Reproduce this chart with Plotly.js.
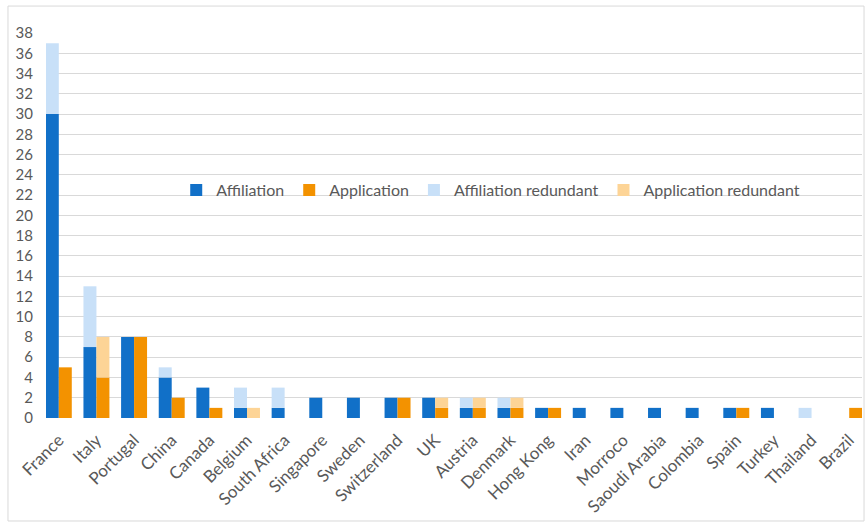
<!DOCTYPE html>
<html>
<head>
<meta charset="utf-8">
<script src="https://cdn.plot.ly/plotly-3.0.1.min.js"></script>
<style>html,body{margin:0;padding:0;background:#fff;} #chart{width:868px;height:523px;}</style>
</head>
<body>
<div id="chart"></div>
<script>
const countries = ["France","Italy","Portugal","China","Canada","Belgium","South Africa","Singapore","Sweden","Switzerland","UK","Austria","Denmark","Hong Kong","Iran","Morroco","Saoudi Arabia","Colombia","Spain","Turkey","Thailand","Brazil"];
const affiliation = [30,7,8,4,3,1,1,2,2,2,2,1,1,1,1,1,1,1,1,1,0,0];
const application = [5,4,8,2,1,0,0,0,0,2,1,1,1,1,0,0,0,0,1,0,0,1];
const affiliationRedundant = [7,6,0,1,0,2,2,0,0,0,0,1,1,0,0,0,0,0,0,0,1,0];
const applicationRedundant = [0,4,0,0,0,1,0,0,0,0,1,1,1,0,0,0,0,0,0,0,0,0];
const yTicks = [0,2,4,6,8,10,12,14,16,18,20,22,24,26,28,30,32,34,36,38];

const fam = "Lato, 'Open Sans', sans-serif";

const traces = [
  {type:"bar", name:"Affiliation", x:countries, y:affiliation, offsetgroup:"aff", marker:{color:"#1170C8"}},
  {type:"bar", name:"Application", x:countries, y:application, offsetgroup:"app", marker:{color:"#F39200"}},
  {type:"bar", name:"Affiliation redundant", x:countries, y:affiliationRedundant, base:affiliation, offsetgroup:"aff", marker:{color:"#C8E0F8"}},
  {type:"bar", name:"Application redundant", x:countries, y:applicationRedundant, base:application, offsetgroup:"app", marker:{color:"#FDD496"}}
];

const layout = {
  width: 868, height: 523,
  margin: {l:46, r:6, t:33, b:105, pad:0},
  paper_bgcolor: "#fff", plot_bgcolor: "#fff",
  font: {family: fam, color: "#595959", size: 15},
  barmode: "group",
  bargap: 0.31,
  bargroupgap: 0,
  showlegend: true,
  legend: {orientation:"h", x:0.545, y:0.592, xanchor:"center", yanchor:"middle", bgcolor:"rgba(0,0,0,0)", font:{family:fam, color:"#595959", size:16}, traceorder:"normal", itemwidth:30},
  xaxis: {type:"category", range:[-0.34, 21.34], tickangle:-45, showgrid:false, zeroline:false, showline:false, ticks:"", ticklabelstandoff:8, tickfont:{family:fam, color:"#595959", size:17}, fixedrange:true, automargin:false},
  yaxis: {range:[0,38], tickvals:yTicks, showgrid:true, gridcolor:"#D9D9D9", gridwidth:1, zeroline:false, showline:false, ticks:"", ticklabelstandoff:12, tickfont:{family:fam, color:"#595959", size:15}, fixedrange:true, automargin:false},
  shapes: [
    {type:"rect", xref:"paper", yref:"paper", x0:-0.0466, x1:1.0025, y0:-0.2675, y1:1.070, line:{color:"#D9D9D9", width:1}, fillcolor:"rgba(0,0,0,0)", layer:"below"}
  ]
};

Plotly.newPlot("chart", traces, layout, {displayModeBar:false, staticPlot:true});
</script>
</body>
</html>
